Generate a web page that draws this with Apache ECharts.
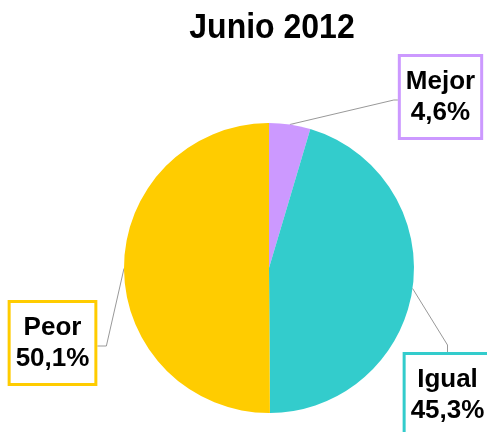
<!DOCTYPE html>
<html>
<head>
<meta charset="utf-8">
<script src="https://cdn.jsdelivr.net/npm/echarts@6/dist/echarts.min.js"></script>
<style>
  html, body { margin: 0; padding: 0; background: #fff; }
  #chart { width: 487px; height: 432px; }
</style>
</head>
<body>
<div id="chart"></div>
<script>
// Survey answers, June 2012 (percent of responses)
const titleText = 'Junio 2012';
const categories = ['Mejor', 'Igual', 'Peor'];
const shares = [4.6, 45.3, 50.1];
const colors = ['#CC99FF', '#33CCCC', '#FFCC00'];

// Where each label box sits (centre x, top y)
const boxSpots = [
  { cx: 440.5, top: 57 },
  { cx: 447.5, top: 355 },
  { cx: 52.5, top: 303 }
];

function formatPct(v) {
  return v.toFixed(1).replace('.', ',') + '%';
}

const chart = echarts.init(document.getElementById('chart'), null, { renderer: 'canvas' });

const data = categories.map((name, i) => ({
  name: name,
  value: shares[i],
  itemStyle: { color: colors[i] },
  label: { borderColor: colors[i] }
}));

chart.setOption({
  animation: false,
  backgroundColor: '#ffffff',
  graphic: [{
    type: 'text',
    x: 272,
    y: 28,
    scaleY: 1.12,
    style: {
      text: titleText,
      font: 'bold 32px "Liberation Sans", Arial, sans-serif',
      fill: '#000',
      textAlign: 'center',
      textVerticalAlign: 'middle'
    }
  }],
  series: [{
    type: 'pie',
    center: [269, 268],
    radius: [0, 145],
    startAngle: 90,
    clockwise: true,
    avoidLabelOverlap: false,
    data: data,
    label: {
      show: true,
      position: 'outside',
      formatter: p => p.name + '\n' + formatPct(p.value),
      fontFamily: '"Liberation Sans", Arial, sans-serif',
      fontWeight: 'bold',
      fontSize: 26,
      lineHeight: 31,
      color: '#000',
      backgroundColor: '#fff',
      borderWidth: 3,
      padding: [9, 5],
      align: 'center'
    },
    labelLine: {
      show: true,
      length: 10,
      length2: 10,
      lineStyle: { color: '#999', width: 1 }
    },
    labelLayout: function (params) {
      const i = params.dataIndex;
      const spot = boxSpots[i];
      const w = params.labelRect.width;
      const h = params.labelRect.height;
      const start = params.labelLinePoints ? params.labelLinePoints[0] : null;
      const left = spot.cx - w / 2;
      const right = spot.cx + w / 2;
      const midY = spot.top + h / 2;
      let pts;
      if (i === 0) {
        pts = [start, [left - 4, midY], [left, midY]];
      } else if (i === 1) {
        pts = [start, [spot.cx, spot.top - 10], [spot.cx, spot.top]];
      } else {
        pts = [start, [right + 9, midY], [right, midY]];
      }
      return {
        x: spot.cx,
        y: spot.top,
        align: 'center',
        verticalAlign: 'top',
        labelLinePoints: start ? pts : undefined
      };
    }
  }]
});
</script>
</body>
</html>
